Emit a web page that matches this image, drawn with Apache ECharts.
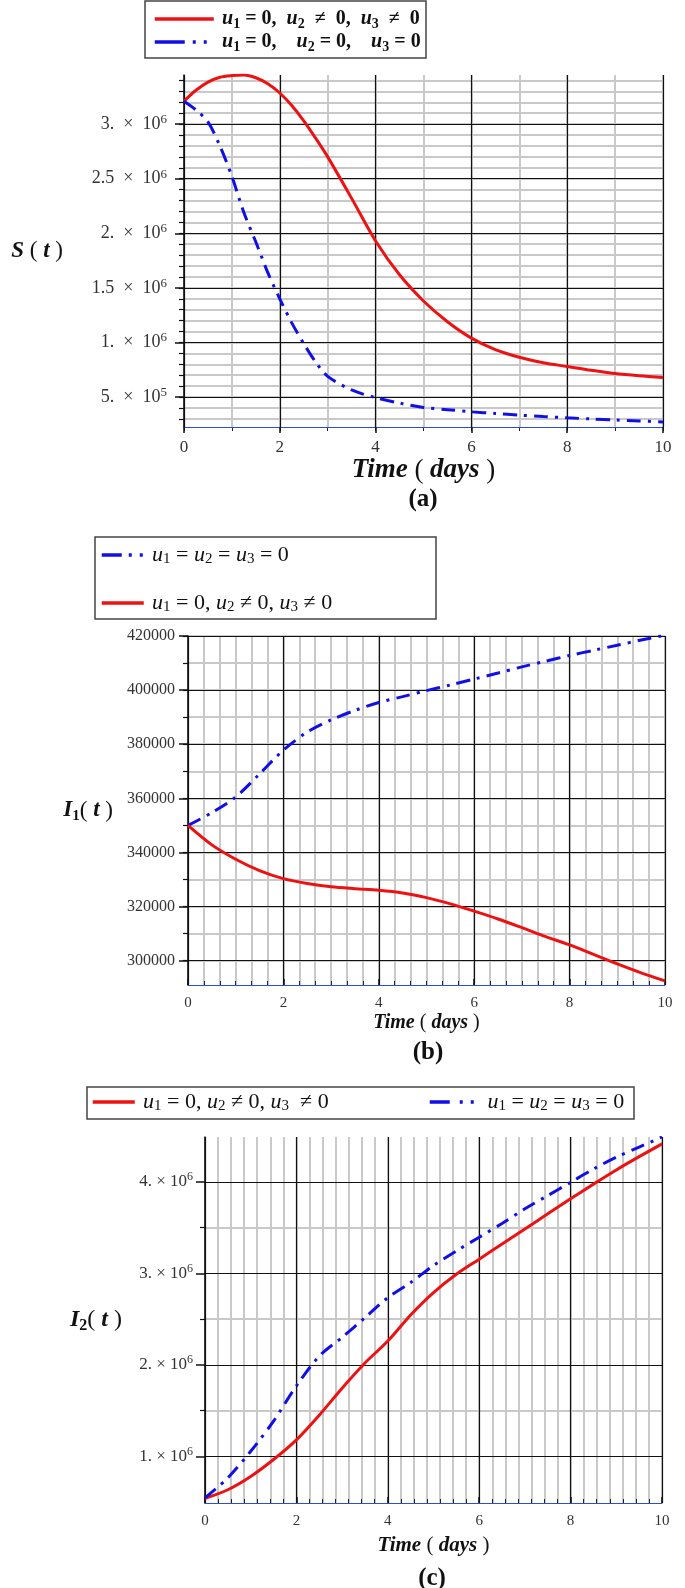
<!DOCTYPE html>
<html><head><meta charset="utf-8">
<script src="https://cdn.jsdelivr.net/npm/echarts@6/dist/echarts.min.js"></script>
<style>html,body{margin:0;padding:0;background:#fff}#c{width:685px;height:1588px}</style>
</head><body><div id="c"></div>
<script>
// ---------- data ----------
const daysA = [0,0.25,0.5,0.75,1,1.25,1.5,1.75,2,2.25,2.5,2.75,3,3.5,4,4.5,5,5.5,6,6.5,7,7.5,8,8.5,9,9.5,10];
const sControl = [3210000,3310000,3385000,3430000,3445000,3450000,3425000,3370000,3285000,3170000,3030000,2870000,2700000,2320000,1930000,1620000,1380000,1190000,1040000,935000,865000,815000,780000,745000,715000,695000,680000];
const sNoControl = [3210000,3130000,3020000,2800000,2520000,2190000,1920000,1640000,1400000,1180000,990000,820000,690000,565000,495000,445000,405000,385000,365000,350000,335000,322000,310000,300000,290000,282000,272000];

const daysB = [0,0.5,1,1.5,2,2.5,3,3.5,4,4.5,5,5.5,6,6.5,7,7.5,8,8.5,9,9.5,10];
const i1NoControl = [350000,354700,360500,369000,377800,384500,389000,392500,395400,397600,399800,401900,404100,406300,408600,410700,412800,414700,416600,418500,420300];
const i1Control = [350000,342800,337500,333300,330300,328500,327300,326600,326000,325000,323300,321000,318300,315400,312200,308900,305800,302300,298800,295500,292500];

const daysC = [0,0.5,1,1.5,2,2.5,3,3.5,4,4.5,5,5.5,6,6.5,7,7.5,8,8.5,9,9.5,10];
const i2Control = [540000,635000,780000,965000,1180000,1450000,1745000,2020000,2260000,2545000,2790000,2990000,3155000,3320000,3485000,3650000,3815000,3975000,4130000,4275000,4415000];
const i2NoControl = [545000,765000,1055000,1385000,1770000,2095000,2300000,2515000,2735000,2900000,3085000,3245000,3395000,3545000,3705000,3850000,3995000,4140000,4270000,4380000,4490000];

// tick values
const yMajorA = [500000,1000000,1500000,2000000,2500000,3000000];
const yMinorA = [300000,400000,500000,600000,700000,800000,900000,1000000,1100000,1200000,1300000,1400000,1500000,1600000,1700000,1800000,1900000,2000000,2100000,2200000,2300000,2400000,2500000,2600000,2700000,2800000,2900000,3000000,3100000,3200000,3300000,3400000];
const yMajorB = [300000,320000,340000,360000,380000,400000,420000];
const yMinorB = [300000,310000,320000,330000,340000,350000,360000,370000,380000,390000,400000,410000,420000];
const yMajorC = [1000000,2000000,3000000,4000000];
const yMinorC = [1500000,2500000,3500000];

// ---------- styling ----------
const SERIF = '"Liberation Serif","DejaVu Serif",serif';
const RED = '#ee1111', BLUE = '#1010e6';
const DASHDOT = [14,7,3,7];
const GRAY = '#c9c9c9';
const pairs = (xs, ys) => xs.map((x, i) => [x, ys[i]]);

function sciA(v){ const e = Math.floor(Math.log10(v) + 1e-9); const m = v / Math.pow(10, e);
  const ms = Number.isInteger(m) ? m + '.' : String(m); return '{m|' + ms + '  ×  10}{e|' + e + '}'; }
function sciC(v){ const e = Math.floor(Math.log10(v) + 1e-9); const m = v / Math.pow(10, e);
  const ms = Number.isInteger(m) ? m + '.' : String(m); return '{m|' + ms + ' × 10}{e|' + e + '}'; }

const supRich = (fs) => ({ m:{fontFamily:SERIF,fontSize:fs,color:'#333',lineHeight:fs+4},
                           e:{fontFamily:SERIF,fontSize:fs-5,color:'#333',lineHeight:10,verticalAlign:'top'} });

const timeName = (fs) => ({ name:'{b|Time}{p| ( }{b|days}{p| )}', nameLocation:'middle',
  nameTextStyle:{ rich:{ b:{fontFamily:SERIF,fontSize:fs,fontWeight:'bold',fontStyle:'italic',color:'#111'},
                         p:{fontFamily:SERIF,fontSize:fs,color:'#111'} } } });

function xMinorAxis(g, interval, inside){
  return { type:'value', gridIndex:g, min:0, max:10, interval:interval, z:0, position:'bottom',
    axisLine:{show:false,onZero:false}, axisLabel:{show:false},
    axisTick:{show:true,inside:inside,length:4,lineStyle:{color:'#222',width:1}},
    splitLine:{show:true,lineStyle:{color:GRAY,width:2}} };
}
function xMajorAxis(g, inside, lblSize, margin, nameSize, nameGap){
  return Object.assign({ type:'value', gridIndex:g, min:0, max:10, interval:2, z:1, position:'bottom',
    axisLine:{show:true,onZero:false,lineStyle:{color:'#2a4fcf',width:1}},
    axisTick:{show:true,inside:inside,length:6,lineStyle:{color:'#111',width:1.5}},
    axisLabel:{fontFamily:SERIF,fontSize:lblSize,color:'#333',margin:margin},
    splitLine:{show:true,lineStyle:{color:'#111',width:1.2}},
    nameGap:nameGap }, timeName(nameSize));
}
function yMinorAxis(g, min, max, vals){
  return { type:'value', gridIndex:g, min:min, max:max, z:0, position:'left',
    axisLine:{show:false,onZero:false}, axisLabel:{show:false},
    axisTick:{show:true,length:5,customValues:vals,lineStyle:{color:'#111',width:1.2}},
    splitLine:{show:true,lineStyle:{color:GRAY,width:2}} };
}
function yMajorAxis(g, min, max, vals, label, name, nameGap){
  return { type:'value', gridIndex:g, min:min, max:max, z:1, position:'left',
    axisLine:{show:true,onZero:false,lineStyle:{color:'#111',width:1.5}},
    axisTick:{show:true,length:9,customValues:vals,lineStyle:{color:'#111',width:1.5}},
    axisLabel:Object.assign({customValues:vals}, label),
    splitLine:{show:true,lineStyle:{color:'#111',width:1.2}},
    name:name.text, nameLocation:'middle', nameRotate:0, nameGap:nameGap,
    nameTextStyle:{rich:name.rich} };
}

const nameRich = (fs) => ({
  b:{fontFamily:SERIF,fontSize:fs,fontWeight:'bold',fontStyle:'italic',color:'#111',lineHeight:fs+4},
  s:{fontFamily:SERIF,fontSize:Math.round(fs*0.65),fontWeight:'bold',color:'#111',lineHeight:12,verticalAlign:'bottom'},
  p:{fontFamily:SERIF,fontSize:fs,color:'#111',lineHeight:fs+4}
});

// legend texts
const legendText = {
  a_red:  '{u|u}{s|1}{t| = 0,  }{u|u}{s|2}{t|  ≠  0,  }{u|u}{s|3}{t|  ≠  0}',
  a_blue: '{u|u}{s|1}{t| = 0,    }{u|u}{s|2}{t| = 0,    }{u|u}{s|3}{t| = 0}',
  b_blue: '{u|u}{s|1}{t| = }{u|u}{s|2}{t| = }{u|u}{s|3}{t| = 0}',
  b_red:  '{u|u}{s|1}{t| = 0, }{u|u}{s|2}{t| ≠ 0, }{u|u}{s|3}{t| ≠ 0}',
  c_red:  '{u|u}{s|1}{t| = 0, }{u|u}{s|2}{t| ≠ 0, }{u|u}{s|3}{t|  ≠ 0}',
  c_blue: ' {u|u}{s|1}{t| = }{u|u}{s|2}{t| = }{u|u}{s|3}{t| = 0}'
};
const legRich = (fs, bold) => ({
  u:{fontFamily:SERIF,fontSize:fs,fontStyle:'italic',fontWeight:bold?'bold':'normal',color:'#111',lineHeight:24},
  s:{fontFamily:SERIF,fontSize:Math.round(fs*0.68),fontWeight:bold?'bold':'normal',color:'#111',lineHeight:13,verticalAlign:'bottom'},
  t:{fontFamily:SERIF,fontSize:fs,fontWeight:bold?'bold':'normal',color:'#111',lineHeight:24}
});
const fmt = (n) => ' ' + legendText[n];
const noSymbol = {color:'rgba(0,0,0,0)', borderColor:'rgba(0,0,0,0)', borderWidth:0, opacity:0};
const legLine = (type) => ({width:3.5, type:type, cap:'butt'});

function lineSeries(name, xi, yi, xs, ys, color, dashed){
  return { type:'line', name:name, xAxisIndex:xi, yAxisIndex:yi, data:pairs(xs, ys),
    symbol:'none', smooth:0.3, z:3,
    lineStyle:{color:color,width:3,type:dashed?DASHDOT:'solid',cap:'butt'}, itemStyle:{color:color} };
}

const option = {
  animation:false,
  backgroundColor:'#fff',
  grid:[
    {left:184, top:75, width:479, height:352, outerBoundsMode:'none'},
    {left:188, top:636, width:477, height:349, outerBoundsMode:'none'},
    {left:205, top:1137, width:457, height:366, outerBoundsMode:'none'}
  ],
  xAxis:[
    xMinorAxis(0, 1, false), xMajorAxis(0, false, 17, 12, 27, 30),
    xMinorAxis(1, 1/3, true), xMajorAxis(1, true, 15, 11, 20, 28),
    xMinorAxis(2, 2/7, true), xMajorAxis(2, true, 15, 11, 21, 32)
  ],
  yAxis:[
    yMinorAxis(0, 226000, 3450000, yMinorA),
    yMajorAxis(0, 226000, 3450000, yMajorA, {formatter:sciA, margin:17, rich:supRich(18)},
      {text:'{b|S}{p| ( }{b|t}{p| )}', rich:nameRich(23)}, 121),
    yMinorAxis(1, 291000, 420000, yMinorB),
    yMajorAxis(1, 291000, 420000, yMajorB, {formatter:(v)=>String(v), fontFamily:SERIF,fontSize:16,color:'#333',margin:13},
      {text:'{b|I}{s|1}{p|( }{b|t}{p| )}', rich:nameRich(23)}, 75),
    yMinorAxis(2, 490000, 4490000, yMinorC),
    yMajorAxis(2, 490000, 4490000, yMajorC, {formatter:sciC, margin:12, rich:supRich(17)},
      {text:'{b|I}{s|2}{p|( }{b|t}{p| )}', rich:nameRich(24)}, 83)
  ],
  legend:[
    {orient:'vertical', left:153, top:9, padding:0, itemWidth:59, itemHeight:14, itemGap:1, selectedMode:false,
     itemStyle:noSymbol,
     data:[{name:'a_red',lineStyle:legLine('solid')},{name:'a_blue',lineStyle:legLine([30,8,3,8,3,10])}],
     formatter:fmt, textStyle:{rich:legRich(20,true)}},
    {orient:'vertical', left:100, top:544, padding:0, itemWidth:42, itemHeight:14, itemGap:25, selectedMode:false,
     itemStyle:noSymbol,
     data:[{name:'b_blue',lineStyle:legLine([20,7,3,8,3,10])},{name:'b_red',lineStyle:legLine('solid')}],
     formatter:fmt, textStyle:{rich:legRich(22,false)}},
    {orient:'horizontal', left:91, top:1091, padding:0, itemWidth:42, itemHeight:14, selectedMode:false,
     itemStyle:noSymbol,
     data:[{name:'c_red',lineStyle:legLine('solid')}], formatter:fmt, textStyle:{rich:legRich(22,false)}},
    {orient:'horizontal', left:428, top:1091, padding:0, itemWidth:46, itemHeight:14, selectedMode:false,
     itemStyle:noSymbol,
     data:[{name:'c_blue',lineStyle:legLine([20,10,3,8,3,10])}], formatter:fmt, textStyle:{rich:legRich(22,false)}}
  ],
  graphic:[
    {type:'rect', z:-1, shape:{x:145,y:1,width:281,height:57}, style:{fill:'#fff',stroke:'#444',lineWidth:1.5}},
    {type:'rect', z:-1, shape:{x:95,y:537,width:341,height:82}, style:{fill:'#fff',stroke:'#444',lineWidth:1.5}},
    {type:'rect', z:-1, shape:{x:87,y:1087,width:547,height:32}, style:{fill:'#fff',stroke:'#444',lineWidth:1.5}},
    {type:'text', x:423, y:500, style:{text:'(a)', font:'bold 25px ' + SERIF, fill:'#111', align:'center', verticalAlign:'middle'}},
    {type:'text', x:428, y:1053, style:{text:'(b)', font:'bold 25px ' + SERIF, fill:'#111', align:'center', verticalAlign:'middle'}},
    {type:'text', x:432, y:1579, style:{text:'(c)', font:'bold 25px ' + SERIF, fill:'#111', align:'center', verticalAlign:'middle'}}
  ],
  series:[
    lineSeries('a_red', 1, 1, daysA, sControl, RED, false),
    lineSeries('a_blue', 1, 1, daysA, sNoControl, BLUE, true),
    lineSeries('b_blue', 3, 3, daysB, i1NoControl, BLUE, true),
    lineSeries('b_red', 3, 3, daysB, i1Control, RED, false),
    lineSeries('c_red', 5, 5, daysC, i2Control, RED, false),
    lineSeries('c_blue', 5, 5, daysC, i2NoControl, BLUE, true)
  ]
};
const chart = echarts.init(document.getElementById('c'), null, {renderer:'canvas'});
chart.setOption(option);
</script></body></html>
